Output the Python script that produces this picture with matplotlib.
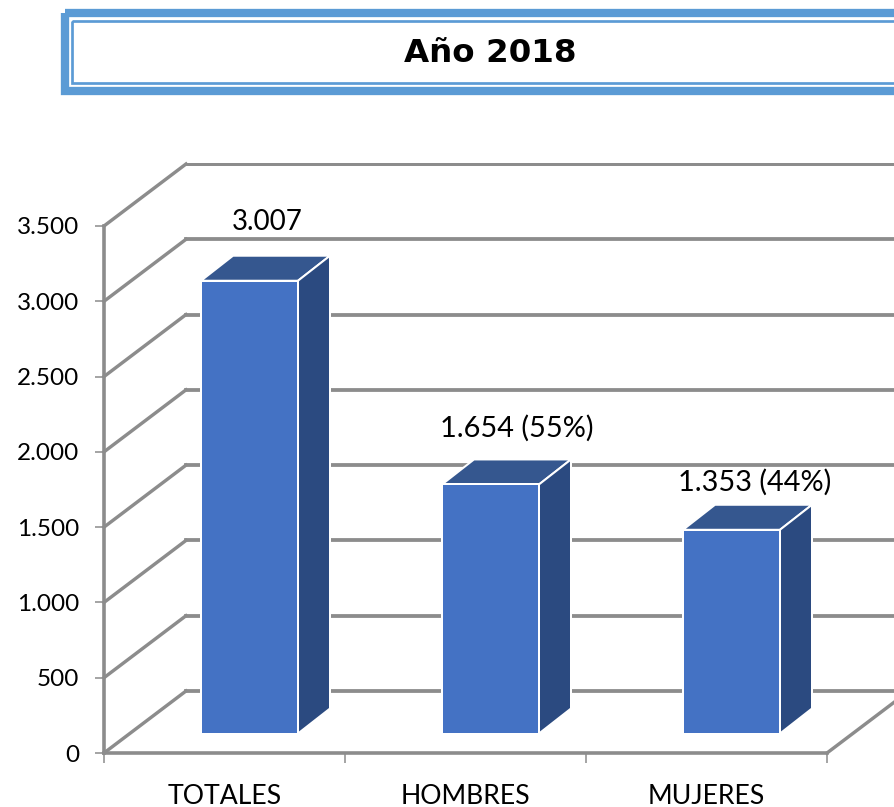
import matplotlib
matplotlib.use('AGG')
import matplotlib.pyplot as plt
from matplotlib.patches import Polygon, Rectangle
from matplotlib.transforms import Affine2D

categories = ['TOTALES', 'HOMBRES', 'MUJERES']
values = [3007, 1654, 1353]
bar_labels = ['3.007', '1.654 (55%)', '1.353 (44%)']
y_ticks = [0, 500, 1000, 1500, 2000, 2500, 3000, 3500]
y_tick_labels = ['0', '500', '1.000', '1.500', '2.000', '2.500', '3.000', '3.500']
title = 'Año 2018'

W, H = 894, 807
GRAY = '#8c8c8c'
BLUE = '#4472c4'
SIDE = '#2b4a80'
TOP = '#35578f'
FRAME = '#5b9bd5'

plt.rcParams['font.family'] = ['Lato', 'DejaVu Sans']


def px(v):
    return v * 0.72


fig = plt.figure(figsize=(W / 100, H / 100), dpi=100)

# title box, in pixels
bg = fig.add_axes([0, 0, 1, 1])
bg.set_xlim(0, W)
bg.set_ylim(H, 0)
bg.axis('off')
bg.add_patch(Rectangle((65, 13.2), 900, 77.8, fill=False, ec=FRAME, lw=px(8.3)))
bg.add_patch(Rectangle((72.2, 21.4), 900, 61.2, fill=False, ec=FRAME, lw=px(2.7)))
bg.text(490.5, 53, title, family='DejaVu Sans', weight='bold', fontsize=23.4,
        ha='center', va='center', color='black')

# plot area: front face of the 3d box
left, right, bottom, top = 104, 827, 753, 226
ax = fig.add_axes([left / W, 1 - bottom / H, (right - left) / W, (bottom - top) / H])
ax.set_xlim(-0.5, 2.5)
ax.set_ylim(0, 3500)
ax.patch.set_alpha(0)
for s in ['top', 'right']:
    ax.spines[s].set_visible(False)
for s in ['left', 'bottom']:
    ax.spines[s].set_color(GRAY)
    ax.spines[s].set_linewidth(px(3.6))

ax.set_yticks(y_ticks)
ax.set_yticklabels(y_tick_labels)
ax.set_xticks([-0.5, 0.5, 1.5, 2.5])
ax.set_xticklabels([])
ax.tick_params(axis='y', length=px(9), width=px(2), color='#a6a6a6', labelsize=17.5, pad=px(16))
ax.tick_params(axis='x', length=px(10), width=px(2), color='#a6a6a6')
for i, c in enumerate(categories):
    ax.annotate(c, (i, 0), xytext=(0, px(-43)), textcoords='offset points',
                ha='center', va='center', fontsize=19.2)

# depth of the box in pixels
DX, DY = 82, 62
depth = ax.transData + Affine2D().translate(DX, DY)
for t in y_ticks:
    lw = px(3) if t == 3500 else px(3.8)
    p0 = ax.transData.transform((-0.5, t))
    fig.add_artist(plt.Line2D([p0[0], p0[0] + DX], [p0[1], p0[1] + DY], color=GRAY, lw=px(3.4),
                              transform=None, clip_on=False))
    ax.plot([-0.5, 2.5], [t, t], color=GRAY, lw=lw, transform=depth, clip_on=False, zorder=1)
p1 = ax.transData.transform((2.5, 0))
fig.add_artist(plt.Line2D([p1[0], p1[0] + DX], [p1[1], p1[1] + DY], color=GRAY, lw=px(3.4),
                          transform=None, clip_on=False))

# bars: sit half way into the box
BAR_W = 97 / 241
SHIFT_X, SHIFT_Y = 25, 19.5
SX, SY = 32, 25
label_dx = [17.5, 26, 23.5]
label_dy = [34, 31, 22]
for i, v in enumerate(values):
    x0, y0 = ax.transData.transform((i - BAR_W / 2, 0))
    x1, y1 = ax.transData.transform((i + BAR_W / 2, v))
    x0, x1, y0, y1 = x0 + SHIFT_X, x1 + SHIFT_X, y0 + SHIFT_Y, y1 + SHIFT_Y
    top_face = [(x0, y1), (x1, y1), (x1 + SX, y1 + SY), (x0 + SX, y1 + SY)]
    side_face = [(x1, y0), (x1 + SX, y0 + SY), (x1 + SX, y1 + SY), (x1, y1)]
    front = [(x0, y0), (x1, y0), (x1, y1), (x0, y1)]
    for pts, col in [(top_face, TOP), (side_face, SIDE), (front, BLUE)]:
        fig.add_artist(Polygon(pts, closed=True, fc=col, ec='white', lw=px(2),
                               transform=None, joinstyle='miter'))
    cx = (x0 + x1) / 2 + label_dx[i]
    fs = 20 if i == 0 else 20.8
    fig.text(cx / W, (y1 + SY + label_dy[i]) / H, bar_labels[i], ha='center', va='center', fontsize=fs)

fig.savefig('out.png', dpi=100)
